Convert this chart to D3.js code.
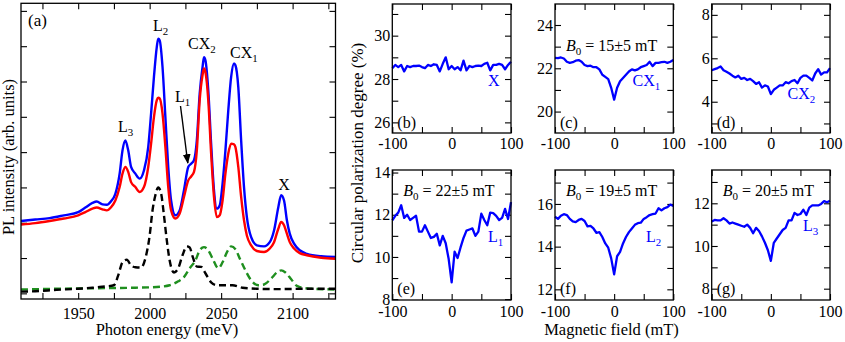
<!DOCTYPE html>
<html><head><meta charset="utf-8">
<script src="https://cdn.jsdelivr.net/npm/d3@7"></script>
<style>
body{margin:0;background:#fff}
svg{display:block}
svg text{font-family:"Liberation Serif",Tinos,"Times New Roman","DejaVu Serif",serif !important}
</style>
</head><body>
<svg id="chart" width="845" height="342"></svg>
<script>
// ---------- Panel (a) data ----------
const energy = [1910,1920,1930,1940,1950,1955,1960,1963,1967,1970,1973,1976,1979,1981,1983,1985,1987,1990,1993,1996,1999,2001,2003,2005,2006,2007,2009,2011,2013,2015,2018,2021,2024,2027,2029,2031,2033,2035,2037,2038,2039,2041,2043,2045,2047,2049,2051,2053,2055,2057,2059,2060,2062,2064,2066,2068,2071,2075,2080,2084,2087,2090,2092,2094,2096,2098,2101,2105,2110,2120,2130];
const bluePL = [2.05,2.09,2.13,2.21,2.30,2.43,2.56,2.60,2.52,2.51,2.61,2.82,3.39,4.05,4.33,4.05,3.58,3.39,3.25,3.48,4.14,5.09,6.13,6.98,7.21,7.17,6.41,4.99,3.58,2.63,2.21,2.35,2.92,3.58,3.67,3.77,4.33,5.66,6.41,6.69,6.60,5.75,4.24,2.92,2.40,2.49,3.11,4.05,5.18,6.13,6.51,6.46,5.84,4.33,3.01,2.16,1.59,1.36,1.33,1.45,1.78,2.44,2.78,2.63,2.07,1.69,1.41,1.22,1.12,1.05,1.03];
const redPL = [1.95,1.99,2.05,2.12,2.21,2.30,2.40,2.43,2.38,2.35,2.44,2.63,3.01,3.39,3.58,3.44,3.15,3.01,2.87,3.01,3.58,4.24,4.99,5.47,5.54,5.52,5.09,4.14,3.01,2.35,2.12,2.26,2.73,3.20,3.31,3.44,4.05,5.47,6.18,6.37,6.27,5.47,3.96,2.73,2.16,2.21,2.63,3.39,3.96,4.24,4.22,4.14,3.58,2.73,2.07,1.64,1.36,1.20,1.17,1.27,1.45,1.83,2.02,1.93,1.69,1.45,1.27,1.14,1.08,1.01,0.98];
const fitEnergyL = [1910,1920,1935,1950,1960,1965,1970,1975,1978,1981,1984,1987,1990,1994,1997,2000,2002,2004,2006,2008,2010,2012,2014,2017,2020,2023,2026,2028,2030,2033,2036,2039,2043,2047,2052,2058,2065,2075,2090,2110,2130];
const fitL = [0.05,0.06,0.10,0.13,0.16,0.18,0.20,0.23,0.51,0.88,0.95,0.79,0.74,0.73,0.99,1.64,2.35,2.78,3.00,2.83,2.21,1.50,0.93,0.59,0.71,1.08,1.33,1.30,1.05,0.76,0.75,0.57,0.31,0.23,0.23,0.23,0.16,0.13,0.12,0.13,0.13];
const fitEnergyCX = [1910,1950,1990,2005,2014,2020,2024,2028,2032,2035,2038,2041,2044,2048,2051,2054,2057,2060,2063,2067,2071,2076,2080,2085,2089,2092,2095,2099,2103,2110,2130];
const fitCX = [0.11,0.14,0.16,0.18,0.23,0.34,0.46,0.71,0.93,1.22,1.31,1.22,0.99,0.71,0.88,1.16,1.33,1.25,0.99,0.65,0.37,0.23,0.25,0.42,0.59,0.65,0.59,0.40,0.21,0.14,0.11];
const energyTicks = [1925,1950,1975,2000,2025,2050,2075,2100,2125];
const energyTickLabels = [1950,2000,2050,2100];
const intensityTicks = [0,1,2,3,4,5,6,7,8];

// ---------- Panels (b)-(g) data ----------
const fieldMT = [-100,-95,-90,-85,-80,-75,-70,-65,-60,-55,-50,-45,-40,-35,-30,-25,-20,-15,-10,-5,0,5,10,15,20,25,30,35,40,45,50,55,60,65,70,75,80,85,90,95,100];
const polX   = [28.5,28.65,28.55,28.65,28.35,28.6,28.55,28.6,28.6,28.62,28.55,28.5,28.65,28.6,28.68,28.65,28.35,28.7,29.0,28.45,28.6,28.45,28.55,28.4,28.85,28.4,28.6,28.55,28.6,28.62,28.6,28.7,28.75,28.4,28.65,28.65,28.7,28.65,28.45,28.65,28.8];
const polCX1 = [22.48,22.47,22.5,22.45,22.3,22.25,22.28,22.35,22.38,22.3,22.15,22.1,22.12,22.05,22.05,21.95,21.7,21.6,21.5,21.1,20.55,21.1,21.4,21.55,21.7,21.85,21.95,21.9,21.95,22.05,22.1,22.15,22.3,22.1,22.25,22.25,22.28,22.3,22.25,22.3,22.38];
const polCX2 = [5.45,5.5,5.55,5.62,5.45,5.38,5.3,5.2,5.12,5.2,5.05,5.1,5.0,5.05,4.95,4.82,4.9,4.65,4.75,4.7,4.35,4.55,4.65,4.75,4.75,4.9,4.85,4.95,5.0,4.85,5.1,5.2,5.2,5.1,4.98,5.3,5.5,5.25,5.35,5.35,5.55];
const polL1  = [11.73,11.95,12.1,12.45,11.85,12.0,11.75,11.85,11.95,11.2,11.2,11.5,11.2,10.9,10.95,11.1,10.55,11.0,10.65,9.9,8.8,10.25,9.95,10.45,10.9,11.25,11.3,11.35,11.0,11.2,12.05,11.75,11.5,12.1,12.08,11.95,11.75,11.85,12.28,11.8,12.6];
const polL2  = [15.4,15.3,15.45,15.52,15.48,15.3,15.18,15.15,15.25,15.3,15.2,14.95,14.97,14.85,14.65,14.68,14.45,14.15,13.95,13.45,12.7,13.55,13.75,14.15,14.45,14.68,14.85,15.02,15.1,15.12,15.3,15.38,15.48,15.52,15.55,15.8,15.7,15.8,15.85,15.97,15.9];
const polL3  = [11.15,11.22,11.2,11.2,11.3,11.2,11.05,11.1,11.05,11.0,10.95,10.9,11.0,10.85,10.6,10.85,10.7,10.45,10.15,9.8,9.3,10.15,10.35,10.55,10.75,10.85,11.2,11.2,11.55,11.45,11.5,11.7,11.45,11.8,11.9,11.9,11.9,11.97,12.1,12.05,12.12];
const fieldTicks = [-100,-50,0,50,100];
const fieldTickLabels = [-100,0,100];

const BLUE = "#0000ff", RED = "#ff0000", GREEN = "#1f8f1f";
const svg = d3.select("#chart");

function styleAxis(g, size){
  g.attr("font-family", null).attr("font-size", size);
  g.select(".domain").remove();
  g.selectAll(".tick line").attr("stroke", "#000").attr("stroke-width", 1.1);
  g.selectAll(".tick text").attr("fill", "#000");
}
function frame(g, w, h){
  g.append("rect").attr("width", w).attr("height", h)
   .attr("fill", "none").attr("stroke", "#000").attr("stroke-width", 1.3);
}
function subText(g, x, y, main, sub, color, size, italicMain){
  const t = g.append("text").attr("x", x).attr("y", y).attr("fill", color).attr("font-size", size);
  const m = t.append("tspan").text(main);
  if (italicMain) m.attr("font-style", "italic");
  if (sub !== "") t.append("tspan").attr("font-size", size*0.68).attr("dy", 4).text(sub);
  return t;
}

// ---------- Panel (a) ----------
{
  const L = 21, T = 3.3, R = 335.5, B = 299;
  const w = R - L, h = B - T;
  const g = svg.append("g").attr("transform", `translate(${L},${T})`);
  const x = d3.scaleLinear().domain([1910, 2130]).range([0, w]);
  const y = d3.scaleLinear().domain([-0.16, 8.215]).range([h, 0]);

  const lbl = d => energyTickLabels.includes(d) ? d : "";
  styleAxis(g.append("g").attr("transform", `translate(0,${h})`)
    .call(d3.axisBottom(x).tickValues(energyTicks).tickSizeInner(-6).tickSizeOuter(0).tickPadding(8.5).tickFormat(lbl)), 16);
  styleAxis(g.append("g").call(d3.axisTop(x).tickValues(energyTicks).tickSizeInner(-6).tickSizeOuter(0).tickFormat("")), 16);
  styleAxis(g.append("g").call(d3.axisLeft(y).tickValues(intensityTicks).tickSizeInner(-6).tickSizeOuter(0).tickFormat("")), 16);
  styleAxis(g.append("g").attr("transform", `translate(${w},0)`).call(d3.axisRight(y).tickValues(intensityTicks).tickSizeInner(-6).tickSizeOuter(0).tickFormat("")), 16);

  const line = d3.line().x(d => x(d[0])).y(d => y(d[1])).curve(d3.curveMonotoneX);
  g.append("clipPath").attr("id", "clipA").append("rect").attr("width", w).attr("height", h);
  const pg = g.append("g").attr("clip-path", "url(#clipA)");
  pg.append("path").datum(d3.zip(fitEnergyCX, fitCX)).attr("d", line)
    .attr("fill", "none").attr("stroke", GREEN).attr("stroke-width", 2.4).attr("stroke-dasharray", "7,4");
  pg.append("path").datum(d3.zip(fitEnergyL, fitL)).attr("d", line)
    .attr("fill", "none").attr("stroke", "#000").attr("stroke-width", 2.4).attr("stroke-dasharray", "7,4");
  pg.append("path").datum(d3.zip(energy, bluePL)).attr("d", line)
    .attr("fill", "none").attr("stroke", BLUE).attr("stroke-width", 2.4);
  pg.append("path").datum(d3.zip(energy, redPL)).attr("d", line)
    .attr("fill", "none").attr("stroke", RED).attr("stroke-width", 2.4);
  frame(g, w, h);

  svg.append("text").attr("x", 28).attr("y", 26).attr("font-size", 17).text("(a)");
  subText(svg, 118, 132, "L", "3", "#000", 16);
  subText(svg, 153, 30.5, "L", "2", "#000", 16);
  subText(svg, 188, 49, "CX", "2", "#000", 16);
  subText(svg, 230, 58, "CX", "1", "#000", 16);
  subText(svg, 175, 101.5, "L", "1", "#000", 16);
  svg.append("text").attr("x", 284).attr("y", 190).attr("text-anchor", "middle").attr("font-size", 16).text("X");
  svg.append("defs").append("marker").attr("id", "arr").attr("viewBox", "0 0 10 10")
    .attr("refX", 9).attr("refY", 5).attr("markerWidth", 7).attr("markerHeight", 7).attr("orient", "auto")
    .append("path").attr("d", "M0,1 L10,5 L0,9 Z").attr("fill", "#000");
  svg.append("line").attr("x1", 180.5).attr("y1", 106).attr("x2", 187.8).attr("y2", 163)
    .attr("stroke", "#000").attr("stroke-width", 1.4).attr("marker-end", "url(#arr)");

  svg.append("text").attr("x", 167).attr("y", 335).attr("text-anchor", "middle")
    .attr("font-size", 16.5).text("Photon energy (meV)");
  svg.append("text").attr("transform", "translate(14,157) rotate(-90)").attr("text-anchor", "middle")
    .attr("font-size", 16.5).text("PL intensity (arb. units)");
}

// ---------- Panels (b)-(g) ----------
const panels = [
  {vals: polX,   L: 392.3, R: 511,   T: 4,   B: 133, dom: [25.51, 31.46], ticks: [26,27,28,29,30,31], labels: [26,28,30], tag: "(b)", name: "X",  sub: "",  nx: 488, ny: 86,  b0: null},
  {vals: polCX1, L: 555,   R: 673.3, T: 4,   B: 133, dom: [19.01, 24.97], ticks: [20,21,22,23,24],    labels: [20,22,24], tag: "(c)", name: "CX", sub: "1", nx: 632.5, ny: 86, b0: "15±5 mT"},
  {vals: polCX2, L: 711.7, R: 830,   T: 4,   B: 133, dom: [2.56, 8.50],   ticks: [3,4,5,6,7,8],       labels: [4,6,8],    tag: "(d)", name: "CX", sub: "2", nx: 787.5, ny: 99, b0: null},
  {vals: polL1,  L: 392.3, R: 511,   T: 170, B: 300, dom: [7.96, 14.12],  ticks: [8,9,10,11,12,13,14], labels: [8,10,12,14], tag: "(e)", name: "L", sub: "1", nx: 488, ny: 241.5, b0: "22±5 mT"},
  {vals: polL2,  L: 555,   R: 673.3, T: 170, B: 300, dom: [11.5, 17.59],  ticks: [12,13,14,15,16,17], labels: [12,14,16], tag: "(f)", name: "L", sub: "2", nx: 646, ny: 241.5, b0: "19±5 mT"},
  {vals: polL3,  L: 711.7, R: 830,   T: 170, B: 300, dom: [7.47, 13.56],  ticks: [8,9,10,11,12,13],   labels: [8,10,12],  tag: "(g)", name: "L", sub: "3", nx: 803, ny: 231, b0: "20±5 mT"}
];

panels.forEach(p => {
  const w = p.R - p.L, h = p.B - p.T;
  const g = svg.append("g").attr("transform", `translate(${p.L},${p.T})`);
  const x = d3.scaleLinear().domain([-100, 100]).range([0, w]);
  const y = d3.scaleLinear().domain(p.dom).range([h, 0]);
  const xl = d => fieldTickLabels.includes(d) ? d : "";
  const yl = d => p.labels.includes(d) ? d : "";
  const pad = p.T < 100 ? 4.6 : 5.6;
  styleAxis(g.append("g").attr("transform", `translate(0,${h})`)
    .call(d3.axisBottom(x).tickValues(fieldTicks).tickSizeInner(-6).tickSizeOuter(0).tickPadding(pad).tickFormat(xl)), 16);
  styleAxis(g.append("g").call(d3.axisTop(x).tickValues(fieldTicks).tickSizeInner(-6).tickSizeOuter(0).tickFormat("")), 16);
  styleAxis(g.append("g").call(d3.axisLeft(y).tickValues(p.ticks).tickSizeInner(-6).tickSizeOuter(0).tickPadding(2).tickFormat(yl)), 16);
  styleAxis(g.append("g").attr("transform", `translate(${w},0)`).call(d3.axisRight(y).tickValues(p.ticks).tickSizeInner(-6).tickSizeOuter(0).tickFormat("")), 16);

  const line = d3.line().x(d => x(d[0])).y(d => y(d[1]));
  g.append("path").datum(d3.zip(fieldMT, p.vals)).attr("d", line)
    .attr("fill", "none").attr("stroke", BLUE).attr("stroke-width", 2.3).attr("stroke-linejoin", "round");
  frame(g, w, h);

  svg.append("text").attr("x", p.L + 5).attr("y", p.T < 100 ? 128 : 294).attr("font-size", 16).text(p.tag);
  subText(svg, p.nx, p.ny, p.name, p.sub, BLUE, 16);
  if (p.b0) {
    const t = svg.append("text").attr("x", p.L + 11).attr("y", p.T < 100 ? 51 : 196).attr("font-size", 16);
    t.append("tspan").attr("font-style", "italic").text("B");
    t.append("tspan").attr("font-size", 11).attr("dy", 4).text("0");
    t.append("tspan").attr("dy", -4).text(" = " + p.b0);
  }
});

svg.append("text").attr("x", 611.5).attr("y", 335).attr("text-anchor", "middle")
  .attr("font-size", 16.5).text("Magnetic field (mT)");
svg.append("text").attr("transform", "translate(363,153) rotate(-90)").attr("text-anchor", "middle")
  .attr("font-size", 17).text("Circular polarization degree (%)");
</script>
</body></html>
